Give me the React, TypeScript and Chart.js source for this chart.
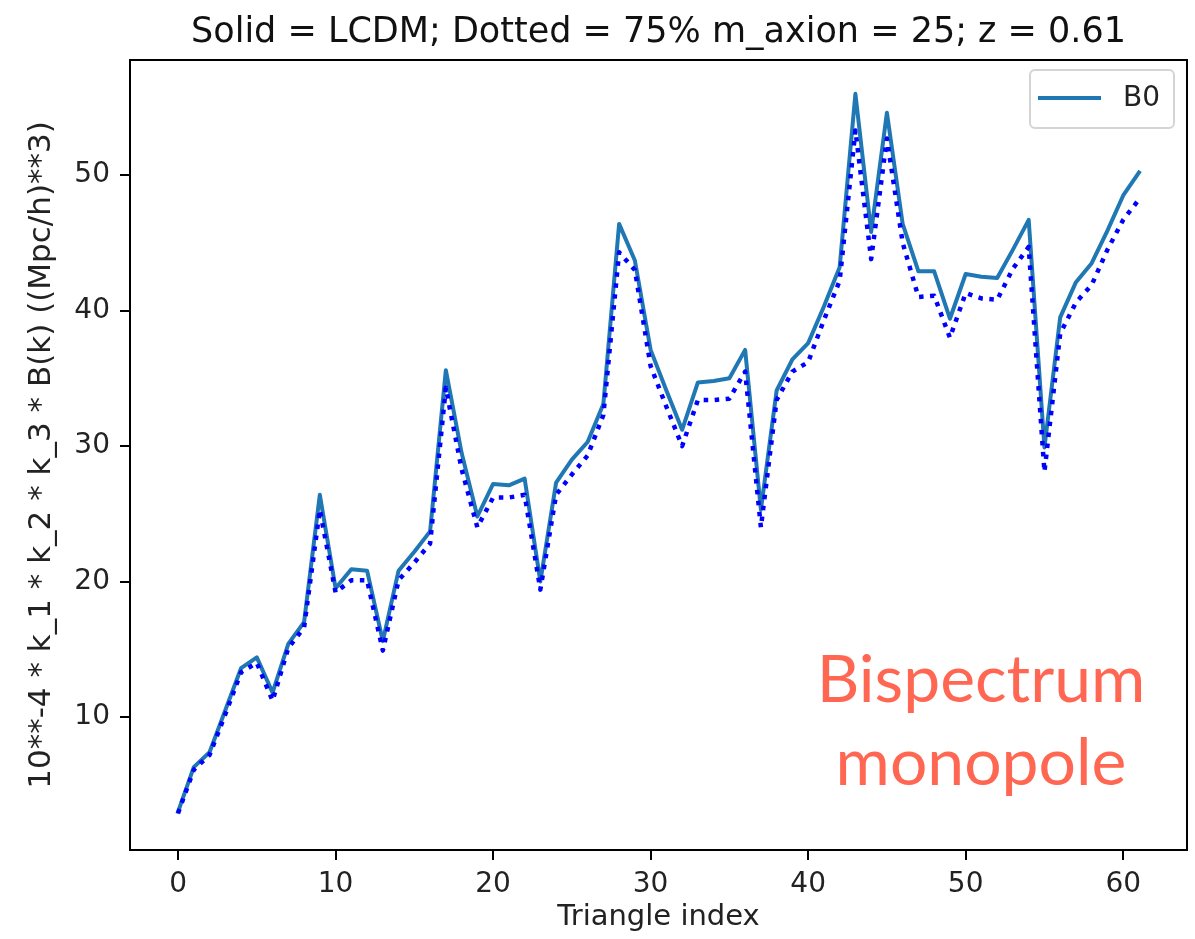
import React, { useEffect, useRef } from "react";
import { Chart, registerables } from "chart.js";

Chart.register(...registerables);

const TITLE = "Solid = LCDM; Dotted = 75% m_axion = 25; z = 0.61";
const X_LABEL = "Triangle index";
const Y_LABEL = "10**-4 * k_1 * k_2 * k_3 * B(k) ((Mpc/h)**3)";
const LEGEND_LABEL = "B0";
const ANNOTATION_LINES = ["Bispectrum", "monopole"];

const X_TICKS = [0, 10, 20, 30, 40, 50, 60];
const Y_TICKS = [10, 20, 30, 40, 50];
const X_MIN = -3.05;
const X_MAX = 64.05;
const Y_MIN = 0.18;
const Y_MAX = 58.5;

// Solid line: LCDM bispectrum monopole
const LCDM = [
  3.0, 6.3, 7.4, 10.5, 13.6, 14.4, 11.8, 15.4, 17.0, 26.4,
  19.5, 20.9, 20.8, 15.6, 20.8, 22.2, 23.7, 35.6, 29.5, 24.8,
  27.2, 27.1, 27.6, 20.0, 27.3, 29.0, 30.3, 33.1, 46.4, 43.7,
  37.1, 34.1, 31.2, 34.7, 34.8, 35.0, 37.1, 25.3, 34.1, 36.4,
  37.6, 40.3, 43.2, 56.0, 45.8, 54.6, 46.4, 42.9, 42.9, 39.4,
  42.7, 42.5, 42.4, 44.5, 46.7, 29.9, 39.5, 42.1, 43.5, 45.9,
  48.5, 50.2,
];

// Dotted line: 75% axion, m_axion = 25
const AXION = [
  2.9, 6.1, 7.2, 10.2, 13.3, 14.0, 11.2, 15.1, 16.6, 25.3,
  19.2, 20.1, 20.1, 14.9, 20.1, 21.4, 22.8, 34.3, 28.3, 24.0,
  26.2, 26.2, 26.4, 19.4, 26.4, 27.9, 29.3, 32.3, 44.3, 43.0,
  35.9, 32.9, 30.0, 33.4, 33.4, 33.5, 35.5, 24.0, 33.4, 35.5,
  36.2, 39.3, 42.2, 53.3, 43.8, 52.7, 45.0, 41.0, 41.1, 38.0,
  41.3, 40.9, 40.8, 43.1, 44.7, 28.1, 38.3, 40.6, 41.9, 44.5,
  46.7, 48.2,
];

const FONT = "'DejaVu Sans', sans-serif";
const SOLID_COLOR = "#1f77b4";
const DOTTED_COLOR = "#0000ff";

export default function App() {
  const ref = useRef<HTMLCanvasElement>(null);

  useEffect(() => {
    const canvas = ref.current;
    if (!canvas) return;

    const overlay = {
      id: "overlay",
      afterDraw(chart: any) {
        const ctx = chart.ctx as CanvasRenderingContext2D;
        const a = chart.chartArea;
        ctx.save();
        // frame
        ctx.strokeStyle = "#000";
        ctx.lineWidth = 2;
        ctx.strokeRect(a.left, a.top, a.right - a.left, a.bottom - a.top);

        // title
        const cx = (a.left + a.right) / 2;
        ctx.fillStyle = "#111";
        ctx.font = `35px ${FONT}`;
        ctx.textAlign = "center";
        ctx.textBaseline = "alphabetic";
        ctx.fillText(TITLE, cx, 42);

        // x label
        ctx.font = `29px ${FONT}`;
        ctx.fillStyle = "#222";
        ctx.fillText(X_LABEL, cx, 925);

        // y label
        ctx.save();
        ctx.translate(42, (a.top + a.bottom) / 2);
        ctx.rotate(-Math.PI / 2);
        ctx.font = `31px ${FONT}`;
        ctx.textBaseline = "middle";
        ctx.fillText(Y_LABEL, 0, 0);
        ctx.restore();

        // legend
        const lx = 1030, ly = 70, lw = 144, lh = 58, r = 5;
        ctx.beginPath();
        ctx.moveTo(lx + r, ly);
        ctx.lineTo(lx + lw - r, ly);
        ctx.arcTo(lx + lw, ly, lx + lw, ly + r, r);
        ctx.lineTo(lx + lw, ly + lh - r);
        ctx.arcTo(lx + lw, ly + lh, lx + lw - r, ly + lh, r);
        ctx.lineTo(lx + r, ly + lh);
        ctx.arcTo(lx, ly + lh, lx, ly + lh - r, r);
        ctx.lineTo(lx, ly + r);
        ctx.arcTo(lx, ly, lx + r, ly, r);
        ctx.closePath();
        ctx.fillStyle = "rgba(255,255,255,0.8)";
        ctx.fill();
        ctx.strokeStyle = "#d4d4d4";
        ctx.lineWidth = 2;
        ctx.stroke();

        ctx.beginPath();
        ctx.strokeStyle = SOLID_COLOR;
        ctx.lineWidth = 4;
        ctx.moveTo(1038, 98);
        ctx.lineTo(1101, 98);
        ctx.stroke();

        ctx.fillStyle = "#222";
        ctx.font = `28px ${FONT}`;
        ctx.textAlign = "left";
        ctx.textBaseline = "middle";
        ctx.fillText(LEGEND_LABEL, 1123, 99);

        // annotation
        ctx.fillStyle = "#ff6752";
        ctx.font = `66px Lato, 'Open Sans', sans-serif`;
        ctx.textAlign = "center";
        ctx.textBaseline = "alphabetic";
        ctx.fillText(ANNOTATION_LINES[0], 981, 702);
        ctx.fillText(ANNOTATION_LINES[1], 981, 785);
        ctx.restore();
      },
    };

    const axisCommon = {
      grid: {
        display: true,
        drawOnChartArea: false,
        drawTicks: true,
        tickLength: 10,
        color: "#000",
        lineWidth: 2,
      },
      border: { display: true, color: "#000", width: 2 },
    };

    const chart = new Chart(canvas, {
      type: "line",
      data: {
        datasets: [
          {
            label: LEGEND_LABEL,
            data: LCDM.map((y, i) => ({ x: i, y })),
            borderColor: SOLID_COLOR,
            backgroundColor: SOLID_COLOR,
            borderWidth: 4,
            borderJoinStyle: "round",
            borderCapStyle: "square",
            pointRadius: 0,
            tension: 0,
            order: 1,
          },
          {
            label: "axion",
            data: AXION.map((y, i) => ({ x: i, y })),
            borderColor: DOTTED_COLOR,
            backgroundColor: DOTTED_COLOR,
            borderWidth: 4.5,
            borderDash: [4.5, 6.5],
            borderJoinStyle: "round",
            pointRadius: 0,
            tension: 0,
            order: 0,
          },
        ],
      },
      options: {
        responsive: false,
        animation: false,
        layout: { padding: { top: 60, right: 8, left: 0, bottom: 0 } },
        plugins: {
          legend: { display: false },
          title: { display: false },
          tooltip: { enabled: false },
        },
        scales: {
          x: {
            type: "linear",
            min: X_MIN,
            max: X_MAX,
            afterBuildTicks: (s: any) => {
              s.ticks = X_TICKS.map((v) => ({ value: v }));
            },
            afterFit: (s: any) => {
              s.height = 89;
            },
            ...axisCommon,
            ticks: {
              color: "#222",
              font: { family: FONT, size: 28 },
              padding: 8,
              maxRotation: 0,
              autoSkip: false,
            },
          },
          y: {
            type: "linear",
            min: Y_MIN,
            max: Y_MAX,
            afterBuildTicks: (s: any) => {
              s.ticks = Y_TICKS.map((v) => ({ value: v }));
            },
            afterFit: (s: any) => {
              s.width = 130;
            },
            ...axisCommon,
            ticks: {
              color: "#222",
              font: { family: FONT, size: 28 },
              padding: 10,
              autoSkip: false,
            },
          },
        },
      },
      plugins: [overlay],
    } as any);

    return () => chart.destroy();
  }, []);

  return (
    <div
      style={{
        position: "fixed",
        left: 0,
        top: 0,
        width: 1195,
        height: 939,
        background: "#fff",
      }}
    >
      <canvas
        ref={ref}
        width={1195}
        height={939}
        style={{ width: 1195, height: 939, display: "block" }}
      />
    </div>
  );
}
